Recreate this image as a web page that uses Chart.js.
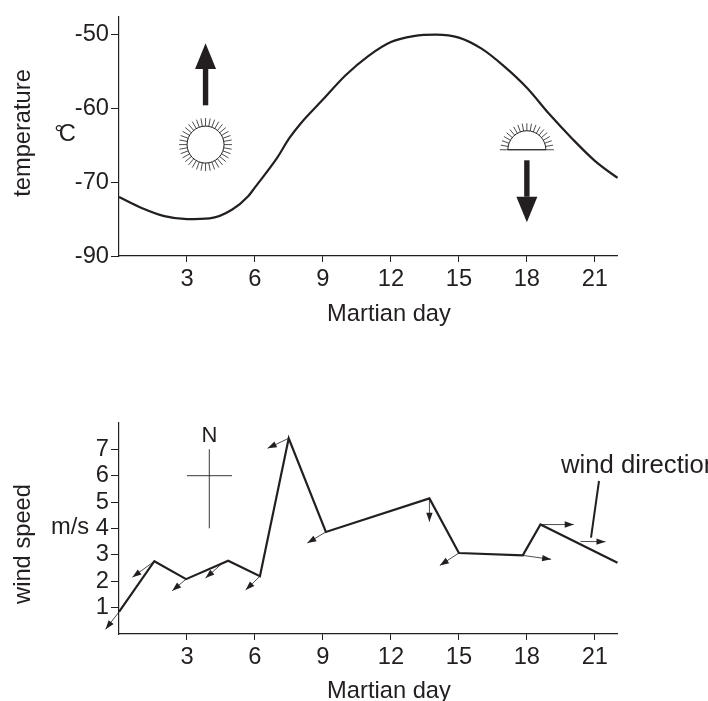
<!DOCTYPE html>
<html>
<head>
<meta charset="utf-8">
<script src="https://cdn.jsdelivr.net/npm/chart.js@4"></script>
<style>
html,body{margin:0;padding:0;background:#fff;}
canvas{position:absolute;left:0;display:block;}
#tempChart{top:0;}
#windChart{top:350px;}
</style>
</head>
<body>
<canvas id="tempChart" width="708" height="350"></canvas>
<canvas id="windChart" width="708" height="351"></canvas>
<script>
// ---- data ----
const hourTicks = [3, 6, 9, 12, 15, 18, 21];

const tempHours = [0, 1, 2, 3, 4, 5, 5.7, 6, 7, 7.5, 8, 9, 10, 11, 12, 13, 14, 15, 16, 17, 18, 19, 20, 21, 22, 22.1];
const tempValues = [-72, -73.5, -74.6, -75, -74.9, -73.7, -71.9, -70.7, -66.6, -64.1, -62.1, -58.8, -55.5, -52.9, -51, -50.2, -50, -50.4, -51.9, -54.3, -57.2, -60.8, -64.1, -67.1, -69.4, -69.6];
const tempTickPositions = [-50, -60, -70, -80];
const tempTickLabels = ['-50', '-60', '-70', '-90'];

const windHours = [0, 1.56, 2.96, 4.82, 6.22, 7.49, 9.13, 13.7, 15, 17.82, 18.6, 22];
const windSpeeds = [0.84, 2.76, 2.08, 2.78, 2.19, 7.42, 3.87, 5.14, 3.07, 2.98, 4.15, 2.7];
const windTicks = [1, 2, 3, 4, 5, 6, 7];

const arrowFromHour = [0, 1.56, 2.96, 4.53, 6.22, 7.49, 9.13, 13.7, 15, 17.82, 18.6, 20.37];
const arrowFromSpeed = [0.84, 2.76, 2.08, 2.66, 2.19, 7.42, 3.87, 5.14, 3.07, 2.98, 4.15, 3.51];
const arrowToHour = [-0.59, 0.59, 2.35, 3.82, 5.59, 6.56, 8.31, 13.7, 14.16, 19.07, 20.07, 21.47];
const arrowToSpeed = [0.18, 2.15, 1.64, 2.12, 1.67, 7.04, 3.45, 4.26, 2.6, 2.83, 4.15, 3.5];

// ---- styling ----
const INK = '#231f20';
const FONT = '"Liberation Sans", Arial, sans-serif';
const SIZE = 23.7;
Chart.defaults.font.family = FONT;
Chart.defaults.color = INK;

function text(ctx, str, x, y, opts) {
  opts = opts || {};
  ctx.save();
  ctx.font = (opts.size || SIZE) + 'px ' + FONT;
  ctx.fillStyle = INK;
  ctx.textBaseline = 'alphabetic';
  ctx.textAlign = opts.align || 'center';
  if (opts.spacing) ctx.letterSpacing = opts.spacing;
  ctx.translate(x, y);
  if (opts.rotate) ctx.rotate(opts.rotate);
  ctx.fillText(str, 0, 0);
  ctx.restore();
}
function line(ctx, x1, y1, x2, y2, w) {
  ctx.save();
  ctx.strokeStyle = INK;
  ctx.lineWidth = w;
  ctx.beginPath();
  ctx.moveTo(x1, y1);
  ctx.lineTo(x2, y2);
  ctx.stroke();
  ctx.restore();
}
function bigArrow(ctx, x, fromY, baseY, tipY) {
  ctx.save();
  ctx.fillStyle = INK;
  ctx.fillRect(x - 2.7, Math.min(fromY, baseY), 5.4, Math.abs(baseY - fromY));
  ctx.beginPath();
  ctx.moveTo(x - 10.5, baseY);
  ctx.lineTo(x + 10.5, baseY);
  ctx.lineTo(x, tipY);
  ctx.closePath();
  ctx.fill();
  ctx.restore();
}
function rays(ctx, cx, cy, r1, r2, startDeg, endDeg, stepDeg) {
  ctx.save();
  ctx.strokeStyle = INK;
  ctx.lineWidth = 0.8;
  ctx.beginPath();
  for (let a = startDeg; a <= endDeg + 0.01; a += stepDeg) {
    const t = a * Math.PI / 180;
    ctx.moveTo(cx + r1 * Math.cos(t), cy - r1 * Math.sin(t));
    ctx.lineTo(cx + r2 * Math.cos(t), cy - r2 * Math.sin(t));
  }
  ctx.stroke();
  ctx.restore();
}

function fixedAxis(prop, size) {
  return function (scale) { scale[prop] = size; };
}
function ticksFrom(values) {
  return function (scale) { scale.ticks = values.map(v => ({ value: v })); };
}
function xAxis(height) {
  return {
    type: 'linear', min: 0, max: 22,
    afterBuildTicks: ticksFrom(hourTicks),
    afterFit: fixedAxis('height', height),
    border: { color: INK, width: 1.2 },
    grid: { drawOnChartArea: false, drawTicks: true, tickLength: 6, tickColor: INK, tickWidth: 1 },
    ticks: { font: { size: SIZE }, color: INK, padding: 3, maxRotation: 0, autoSkip: false, callback: v => String(v) }
  };
}

const tempAnnotations = {
  id: 'tempAnnotations',
  afterDatasetsDraw(chart) {
    const ctx = chart.ctx;
    const x = chart.scales.x, y = chart.scales.y;
    text(ctx, 'Martian day', 389, 321);
    text(ctx, 'temperature', 30, 133, { rotate: -Math.PI / 2 });
    text(ctx, '°C', 62.5, 140.7, { spacing: '-5px' });

    const sunX = x.getPixelForValue(3.82), sunY = y.getPixelForValue(-64.9);
    bigArrow(ctx, sunX, 105.3, 69, 43.3);
    ctx.save();
    ctx.strokeStyle = INK; ctx.lineWidth = 1;
    ctx.beginPath(); ctx.arc(sunX, sunY, 18.5, 0, Math.PI * 2); ctx.stroke();
    ctx.restore();
    rays(ctx, sunX, sunY, 18.5, 26.5, 0, 350, 10);

    const setX = x.getPixelForValue(18), setY = y.getPixelForValue(-65.6);
    bigArrow(ctx, setX, 160.3, 196.7, 222.3);
    ctx.save();
    ctx.strokeStyle = INK; ctx.lineWidth = 1;
    ctx.beginPath(); ctx.arc(setX, setY, 19, Math.PI, 0); ctx.closePath(); ctx.stroke();
    ctx.restore();
    rays(ctx, setX, setY, 19, 26.5, 10, 170, 10);
    line(ctx, setX - 27, setY, setX + 27, setY, 0.8);
  }
};

const windAnnotations = {
  id: 'windAnnotations',
  afterDatasetsDraw(chart) {
    const ctx = chart.ctx;
    const x = chart.scales.x, y = chart.scales.y;
    ctx.save();
    ctx.translate(0, -350);
    text(ctx, 'Martian day', 389, 699 - 1);
    text(ctx, 'wind speed', 30, 544, { rotate: -Math.PI / 2 });
    text(ctx, 'm/s', 70, 534.3);
    text(ctx, 'N', 209.5, 441.7, { size: 22 });
    line(ctx, 209.3, 449.3, 209.3, 528.3, 0.9);
    line(ctx, 187, 475.7, 232, 475.7, 0.9);
    text(ctx, 'wind direction', 561, 473, { size: 25.7, align: 'left' });
    line(ctx, 599, 481, 591, 537.7, 2);
    ctx.restore();

    ctx.save();
    ctx.strokeStyle = INK; ctx.fillStyle = INK; ctx.lineWidth = 0.8;
    arrowFromHour.forEach((h, i) => {
      const x1 = x.getPixelForValue(h), y1 = y.getPixelForValue(arrowFromSpeed[i]);
      const x2 = x.getPixelForValue(arrowToHour[i]), y2 = y.getPixelForValue(arrowToSpeed[i]);
      const a = Math.atan2(y2 - y1, x2 - x1);
      ctx.beginPath(); ctx.moveTo(x1, y1); ctx.lineTo(x2, y2); ctx.stroke();
      ctx.beginPath();
      ctx.moveTo(x2, y2);
      ctx.lineTo(x2 - 9 * Math.cos(a) - 3.2 * Math.sin(a), y2 - 9 * Math.sin(a) + 3.2 * Math.cos(a));
      ctx.lineTo(x2 - 9 * Math.cos(a) + 3.2 * Math.sin(a), y2 - 9 * Math.sin(a) - 3.2 * Math.cos(a));
      ctx.closePath(); ctx.fill();
    });
    ctx.restore();
  }
};

new Chart(document.getElementById('tempChart'), {
  type: 'line',
  data: {
    datasets: [{
      data: tempHours.map((h, i) => ({ x: h, y: tempValues[i] })),
      borderColor: INK, borderWidth: 2.2, pointRadius: 0,
      cubicInterpolationMode: 'monotone', clip: false, fill: false
    }]
  },
  options: {
    responsive: false, animation: false,
    layout: { padding: { left: 0, top: 11, right: 90.5, bottom: 0 } },
    plugins: { legend: { display: false }, tooltip: { enabled: false } },
    scales: {
      x: xAxis(94),
      y: {
        type: 'linear', min: -80, max: -47.5,
        afterBuildTicks: ticksFrom(tempTickPositions),
        afterFit: fixedAxis('width', 119),
        border: { color: INK, width: 1.2 },
        grid: { drawOnChartArea: false, drawTicks: true, tickLength: 8, tickColor: INK, tickWidth: 1 },
        ticks: {
          font: { size: SIZE }, color: INK, padding: 2,
          callback: v => tempTickLabels[tempTickPositions.indexOf(v)]
        }
      }
    }
  },
  plugins: [tempAnnotations]
});

new Chart(document.getElementById('windChart'), {
  type: 'line',
  data: {
    datasets: [{
      data: windHours.map((h, i) => ({ x: h, y: windSpeeds[i] })),
      borderColor: INK, borderWidth: 2.2, pointRadius: 0,
      tension: 0, clip: false, fill: false, borderJoinStyle: 'miter'
    }]
  },
  options: {
    responsive: false, animation: false,
    layout: { padding: { left: 0, top: 73, right: 90.5, bottom: 0 } },
    plugins: { legend: { display: false }, tooltip: { enabled: false } },
    scales: {
      x: xAxis(67),
      y: {
        type: 'linear', min: 0, max: 8,
        afterBuildTicks: ticksFrom(windTicks),
        afterFit: fixedAxis('width', 119),
        border: { color: INK, width: 1.2 },
        grid: { drawOnChartArea: false, drawTicks: true, tickLength: 8, tickColor: INK, tickWidth: 1 },
        ticks: { font: { size: SIZE }, color: INK, padding: 2, callback: v => String(v) }
      }
    }
  },
  plugins: [windAnnotations]
});
</script>
</body>
</html>
